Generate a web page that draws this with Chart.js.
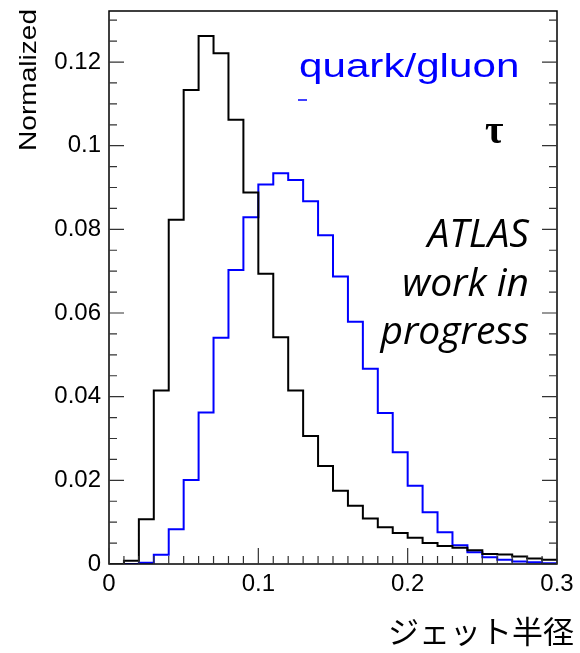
<!DOCTYPE html>
<html lang="ja">
<head>
  <meta charset="UTF-8">
  <title>ジェット半径</title>
  <script src="https://cdn.jsdelivr.net/npm/chart.js"></script>
  <style>
    html, body { margin: 0; padding: 0; background: #fff; }
    #wrap { width: 580px; height: 653px; }
  </style>
</head>
<body>
  <div id="wrap"><canvas id="grafico" width="580" height="653"></canvas></div>

  <script>
    // bin edges (jet radius), 0.01 wide
    const binEdges = [0, 0.01, 0.02, 0.03, 0.04, 0.05, 0.06, 0.07, 0.08, 0.09,
      0.10, 0.11, 0.12, 0.13, 0.14, 0.15, 0.16, 0.17, 0.18, 0.19,
      0.20, 0.21, 0.22, 0.23, 0.24, 0.25, 0.26, 0.27, 0.28, 0.29, 0.30];

    // tau (black) contents per bin
    const tauValues = [0, 0.0008, 0.0107, 0.0415, 0.0823, 0.1133, 0.1262, 0.1221, 0.1062, 0.0888,
      0.0694, 0.0542, 0.0415, 0.0306, 0.0234, 0.0175, 0.0139, 0.0109, 0.0088, 0.0074,
      0.0063, 0.0050, 0.0043, 0.0039, 0.0033, 0.0024, 0.0023, 0.0018, 0.0013, 0.0010];

    // quark/gluon (blue) contents per bin
    const qgValues = [0, 0, 0.0003, 0.0022, 0.0083, 0.0201, 0.0362, 0.0541, 0.0703, 0.0829,
      0.0907, 0.0934, 0.0918, 0.0867, 0.0786, 0.0687, 0.0579, 0.0467, 0.0361, 0.0267,
      0.0187, 0.0124, 0.0076, 0.0045, 0.0028, 0.0016, 0.0010, 0.0006, 0.0004, 0.0002];

    const xTicks = [0, 0.1, 0.2, 0.3];
    const yTicks = [0, 0.02, 0.04, 0.06, 0.08, 0.1, 0.12];

    // histogram -> step points: point i starts bin i, the last edge repeats the last bin
    const toSteps = (values) => binEdges.map((x, i) => ({ x: x, y: values[Math.min(i, values.length - 1)] }));

    // frame, inward ticks and the text labels, ROOT style
    const rootFrame = {
      id: 'rootFrame',
      afterDraw(chart) {
        const { ctx, chartArea: a, scales } = chart;
        const xs = scales.x, ys = scales.y;
        ctx.save();
        ctx.strokeStyle = '#000';
        ctx.lineWidth = 1.5;
        ctx.strokeRect(a.left, a.top, a.right - a.left, a.bottom - a.top);

        ctx.lineWidth = 1.2;
        ctx.strokeStyle = '#333';
        ctx.beginPath();
        // y ticks, major 0.02, minor 0.005
        for (let k = 0; k * 0.005 <= ys.max + 1e-9; k++) {
          const py = ys.getPixelForValue(k * 0.005);
          const len = (k % 4 === 0) ? 15 : 8;
          ctx.moveTo(a.left, py); ctx.lineTo(a.left + len, py);
          ctx.moveTo(a.right, py); ctx.lineTo(a.right - len, py);
        }
        // x ticks, major 0.1, minor 0.01
        for (let k = 0; k <= 30; k++) {
          const px = xs.getPixelForValue(k * 0.01);
          const len = (k % 10 === 0) ? 16 : 8;
          ctx.moveTo(px, a.bottom); ctx.lineTo(px, a.bottom - len);
        }
        ctx.stroke();

        // y title
        ctx.fillStyle = '#000';
        ctx.save();
        ctx.translate(36, 9);
        ctx.rotate(-Math.PI / 2);
        ctx.scale(1.17, 1);
        ctx.font = '24px "Liberation Sans", Arial, sans-serif';
        ctx.textAlign = 'right';
        ctx.textBaseline = 'alphabetic';
        ctx.fillText('Normalized', 0, 0);
        ctx.restore();

        // x title
        ctx.font = '31px "Noto Sans CJK JP", sans-serif';
        ctx.textAlign = 'right';
        ctx.fillText('ジェット半径', 574, 643);

        // legend text
        ctx.save();
        ctx.fillStyle = '#0000ff';
        ctx.translate(299, 77);
        ctx.scale(1.24, 1);
        ctx.font = '34px "Liberation Sans", Arial, sans-serif';
        ctx.textAlign = 'left';
        ctx.fillText('quark/gluon', 0, 0);
        ctx.restore();
        ctx.strokeStyle = '#0000ff';
        ctx.lineWidth = 1.5;
        ctx.beginPath();
        ctx.moveTo(298, 100); ctx.lineTo(307, 100);
        ctx.stroke();

        ctx.fillStyle = '#000';
        ctx.font = 'bold 40px "Liberation Serif", serif';
        ctx.textAlign = 'left';
        ctx.fillText('τ', 485, 143);

        ctx.font = 'italic 39px "Open Sans", sans-serif';
        ctx.textAlign = 'right';
        ctx.fillText('ATLAS', 529, 247);
        ctx.fillText('work in', 529, 296);
        ctx.fillText('progress', 529, 344);
        ctx.restore();
      }
    };

    const ctx = document.getElementById('grafico').getContext('2d');
    new Chart(ctx, {
      type: 'line',
      data: {
        datasets: [
          {
            label: 'tau',
            data: toSteps(tauValues),
            borderColor: '#000',
            borderWidth: 2,
            stepped: 'before',
            pointRadius: 0,
            fill: false,
          },
          {
            label: 'quark/gluon',
            data: toSteps(qgValues),
            borderColor: '#0000ff',
            borderWidth: 2,
            stepped: 'before',
            pointRadius: 0,
            fill: false,
          },
        ],
      },
      options: {
        responsive: false,
        animation: false,
        layout: { padding: { left: 0, right: 23, top: 11, bottom: 0 } },
        plugins: { legend: { display: false }, tooltip: { enabled: false } },
        scales: {
          x: {
            type: 'linear',
            min: 0,
            max: 0.3,
            grid: { display: false, drawTicks: false },
            border: { display: false },
            afterBuildTicks: (s) => { s.ticks = xTicks.map(v => ({ value: v })); },
            afterFit: (s) => { s.height = 89; s.paddingLeft = 0; s.paddingRight = 0; },
            ticks: {
              padding: 6,
              color: '#000',
              font: { family: '"Liberation Sans", Arial, sans-serif', size: 24 },
              maxRotation: 0,
              callback: (v) => String(parseFloat(v.toFixed(3))),
            },
          },
          y: {
            min: 0,
            max: 0.1322,
            grid: { display: false, drawTicks: false },
            border: { display: false },
            afterBuildTicks: (s) => { s.ticks = yTicks.map(v => ({ value: v })); },
            afterFit: (s) => { s.width = 109; s.paddingTop = 0; s.paddingBottom = 0; },
            ticks: {
              padding: 8,
              color: '#000',
              font: { family: '"Liberation Sans", Arial, sans-serif', size: 24 },
              callback: (v) => String(parseFloat(v.toFixed(3))),
            },
          },
        },
      },
      plugins: [rootFrame],
    });
  </script>
</body>
</html>
